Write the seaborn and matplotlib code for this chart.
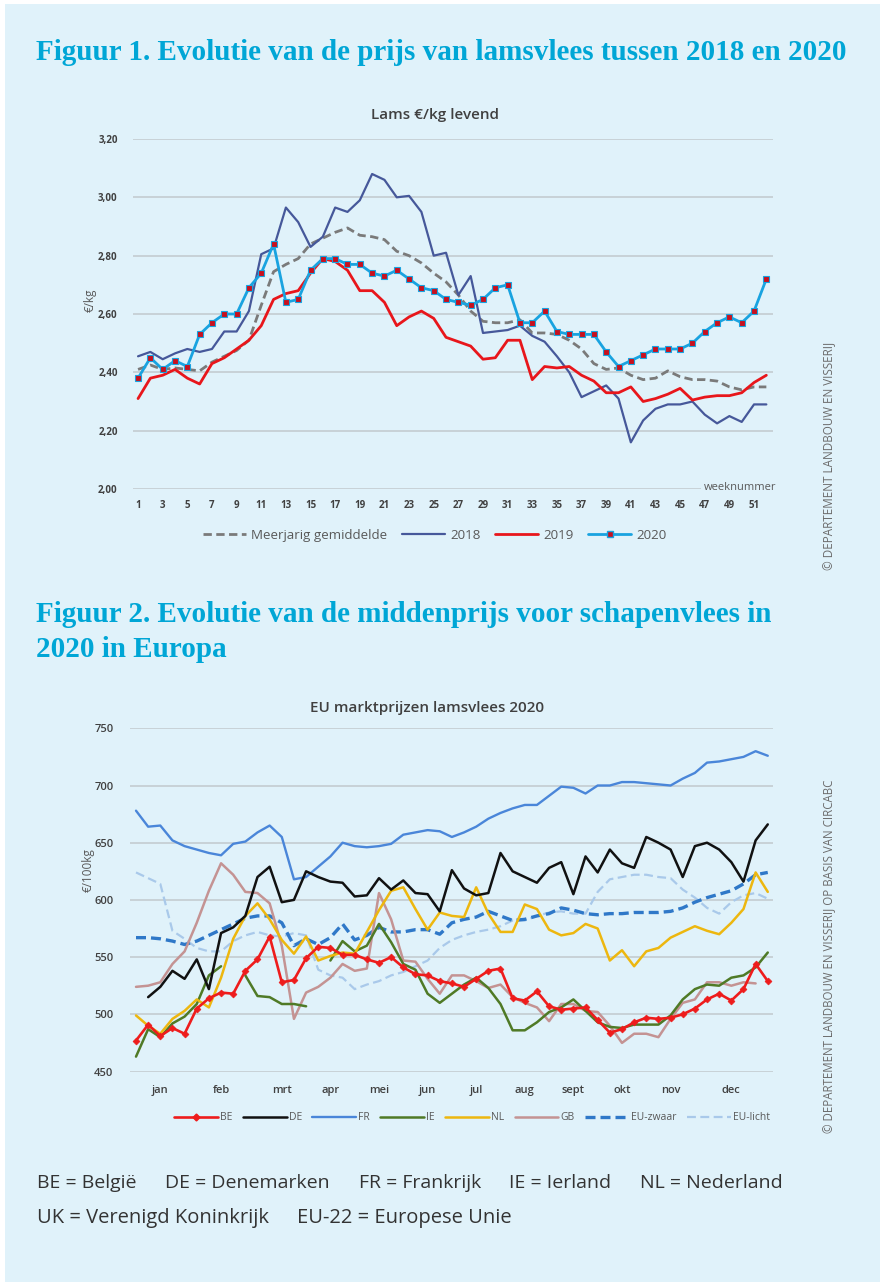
import numpy as np
import pandas as pd
import matplotlib
matplotlib.use("Agg")
import matplotlib.pyplot as plt
import seaborn as sns
from matplotlib.lines import Line2D
from matplotlib.patches import Rectangle
from matplotlib.ticker import FuncFormatter

# ---------------- Figuur 1 data ----------------
weeks_top = list(range(1, 53))
week_ticks_top = list(range(1, 52, 2))
yticks_top = [2.0, 2.2, 2.4, 2.6, 2.8, 3.0, 3.2]
gemiddelde = [2.41, 2.425, 2.41, 2.415, 2.41, 2.405, 2.435, 2.455, 2.475, 2.51,
              2.63, 2.745, 2.77, 2.79, 2.84, 2.86, 2.88, 2.895, 2.87, 2.865,
              2.855, 2.815, 2.80, 2.775, 2.74, 2.71, 2.665, 2.61, 2.575, 2.57,
              2.57, 2.58, 2.535, 2.535, 2.53, 2.51, 2.48, 2.43, 2.41, 2.415,
              2.39, 2.375, 2.38, 2.405, 2.385, 2.375, 2.375, 2.37, 2.35, 2.34,
              2.35, 2.35]
y2018 = [2.455, 2.47, 2.445, 2.465, 2.48, 2.47, 2.48, 2.54, 2.54, 2.61,
         2.805, 2.825, 2.965, 2.915, 2.83, 2.865, 2.965, 2.95, 2.99, 3.08,
         3.06, 3.00, 3.005, 2.95, 2.80, 2.81, 2.665, 2.73, 2.535, 2.54,
         2.545, 2.56, 2.525, 2.505, 2.455, 2.40, 2.315, 2.335, 2.355, 2.31,
         2.16, 2.235, 2.275, 2.29, 2.29, 2.30, 2.255, 2.225, 2.25, 2.23,
         2.29, 2.29]
y2019 = [2.31, 2.38, 2.39, 2.41, 2.38, 2.36, 2.43, 2.45, 2.48, 2.51,
         2.56, 2.65, 2.67, 2.68, 2.74, 2.79, 2.78, 2.75, 2.68, 2.68,
         2.64, 2.56, 2.59, 2.61, 2.585, 2.52, 2.505, 2.49, 2.445, 2.45,
         2.51, 2.51, 2.375, 2.42, 2.415, 2.42, 2.39, 2.37, 2.33, 2.33,
         2.35, 2.30, 2.31, 2.325, 2.345, 2.305, 2.315, 2.32, 2.32, 2.33,
         2.365, 2.39]
y2020 = [2.38, 2.45, 2.41, 2.44, 2.42, 2.53, 2.57, 2.60, 2.60, 2.69,
         2.74, 2.84, 2.64, 2.65, 2.75, 2.79, 2.79, 2.77, 2.77, 2.74,
         2.73, 2.75, 2.72, 2.69, 2.68, 2.65, 2.64, 2.63, 2.65, 2.69,
         2.70, 2.57, 2.57, 2.61, 2.54, 2.53, 2.53, 2.53, 2.47, 2.42,
         2.44, 2.46, 2.48, 2.48, 2.48, 2.50, 2.54, 2.57, 2.59, 2.57,
         2.61, 2.72]

# ---------------- Figuur 2 data ----------------
weeks_eu = list(range(1, 54))
yticks_eu = [450, 500, 550, 600, 650, 700, 750]
month_labels = ["jan", "feb", "mrt", "apr", "mei", "jun", "jul", "aug",
                "sept", "okt", "nov", "dec"]
month_pos = [3, 8, 13, 17, 21, 25, 29, 33, 37, 41, 45, 50]
nan = np.nan
BE = [477, 491, 481, 488, 483, 505, 514, 519, 518, 538,
      548, 568, 528, 530, 549, 559, 558, 552, 552, 548,
      545, 550, 541, 535, 534, 529, 527, 524, 531, 538,
      540, 514, 512, 520, 507, 504, 505, 506, 495, 484,
      487, 493, 497, 496, 497, 500, 505, 513, 518, 512,
      522, 544, 529]
DE = [nan, 515, 524, 538, 531, 548, 522, 571, 576, 586,
      620, 629, 598, 600, 625, 620, 616, 615, 603, 604,
      619, 609, 617, 606, 605, 590, 626, 610, 604, 606,
      641, 625, 620, 615, 628, 633, 605, 638, 624, 644,
      632, 628, 655, 650, 644, 620, 647, 650, 644, 633,
      616, 652, 666]
FR = [678, 664, 665, 652, 647, 644, 641, 639, 649, 651,
      659, 665, 655, 618, 620, 629, 638, 650, 647, 646,
      647, 649, 657, 659, 661, 660, 655, 659, 664, 671,
      676, 680, 683, 683, 691, 699, 698, 693, 700, 700,
      703, 703, 702, 701, 700, 706, 711, 720, 721, 723,
      725, 730, 726]
IE = [463, 487, 480, 492, 498, 509, 534, 542, nan, 534,
      516, 515, 509, 509, 507, nan, 547, 564, 555, 560,
      579, 563, 544, 539, 518, 510, 518, 526, 532, 523,
      509, 486, 486, 493, 502, 506, 513, 503, 493, 489,
      488, 491, 491, 491, 499, 513, 522, 526, 525, 532,
      534, 541, 554]
NL = [499, 490, 483, 496, 503, 513, 506, 532, 566, 586,
      597, 583, 565, 553, 568, 547, 551, 554, 553, 572,
      591, 608, 611, 592, 574, 589, 586, 585, 611, 588,
      572, 572, 596, 592, 574, 569, 571, 579, 575, 547,
      556, 542, 555, 558, 567, 572, 577, 573, 570, 580,
      592, 624, 607]
GB = [524, 525, 528, 544, 555, 580, 608, 632, 622, 607,
      606, 597, 560, 496, 519, 524, 532, 544, 538, 540,
      606, 583, 547, 546, 531, 518, 534, 534, 529, 523,
      526, 515, 510, 506, 494, 509, 509, 503, 502, 490,
      475, 483, 483, 480, 496, 510, 513, 528, 528, 525,
      528, 527, nan]
EU_zwaar = [567, 567, 566, 564, 561, 564, 569, 574, 579, 584,
            586, 586, 580, 560, 566, 561, 567, 579, 565, 569,
            576, 572, 572, 574, 574, 570, 580, 583, 585, 590,
            586, 582, 583, 586, 588, 593, 591, 588, 587, 588,
            588, 589, 589, 589, 590, 593, 598, 602, 605, 608,
            614, 622, 624]
EU_licht = [624, 619, 614, 573, 566, 558, 555, 555, 564, 569,
            572, 569, 568, 571, 569, 539, 534, 532, 522, 526,
            529, 534, 537, 542, 547, 558, 565, 569, 572, 574,
            577, 582, 582, 586, 589, 590, 588, 588, 607, 618,
            620, 622, 622, 620, 619, 609, 602, 593, 588, 598,
            604, 606, 601]

BG = "#E0F2FA"
TXT = "#404040"
CYAN_T = "#00A6D6"

sns.set_theme(style="white")
plt.rcParams['font.family'] = ['Open Sans', 'DejaVu Sans']
W, H = 880, 1282

fig = plt.figure(figsize=(W / 100, H / 100), dpi=100, facecolor="white")
fig.patches.append(Rectangle((5 / W, 0), 1 - 5 / W, 1 - 4 / H, transform=fig.transFigure,
                             facecolor=BG, edgecolor="none", zorder=-10))


def fx(px):
    return px / W


def fy(py):
    return 1 - py / H


def draw(ax, x, y, **kw):
    df = pd.DataFrame({"x": x, "y": y})
    df["seg"] = df["y"].isna().cumsum()
    df = df.dropna()
    sns.lineplot(data=df, x="x", y="y", units="seg", estimator=None, ax=ax,
                 legend=False, sort=False, **kw)


def style_axes(ax, grid_c="#C8D2D7"):
    ax.set_facecolor("none")
    for s in ax.spines.values():
        s.set_visible(False)
    ax.grid(axis="y", color=grid_c, lw=1.4)
    ax.grid(axis="x", visible=False)
    ax.set_axisbelow(True)
    ax.set_xlabel("")
    ax.set_ylabel("")


# ---------------- Figure titles ----------------
TFONT = dict(family="Liberation Serif", weight="bold", fontsize=21, color=CYAN_T,
             ha="left", va="center")
fig.text(fx(36), fy(52), "Figuur 1. Evolutie van de prijs van lamsvlees tussen 2018 en 2020", **TFONT)
fig.text(fx(36), fy(615), "Figuur 2. Evolutie van de middenprijs voor schapenvlees in", **TFONT)
fig.text(fx(36), fy(650), "2020 in Europa", **TFONT)

# ---------------- Chart 1 ----------------
ax1 = fig.add_axes([fx(133), fy(489), (773 - 133) / W, (489 - 139) / H])
C_AVG, C18, C19, C20 = "#7A7A7A", "#46589A", "#E8161B", "#19A3E0"
draw(ax1, weeks_top, gemiddelde, color=C_AVG, lw=2.0, linestyle=(0, (3, 1.6)))
draw(ax1, weeks_top, y2018, color=C18, lw=1.6)
draw(ax1, weeks_top, y2019, color=C19, lw=2.0)
draw(ax1, weeks_top, y2020, color=C20, lw=2.0, marker="s", markersize=4.4,
     markerfacecolor="#C8101E", markeredgecolor=C20, markeredgewidth=0.8)
style_axes(ax1)
ax1.set_xlim(0.59, 52.54)
ax1.set_ylim(2.0, 3.2)
ax1.set_yticks(yticks_top)
ax1.yaxis.set_major_formatter(FuncFormatter(lambda v, p: f"{v:.2f}".replace(".", ",")))
ax1.set_xticks(week_ticks_top)
ax1.set_xticklabels([str(w) for w in week_ticks_top])
ax1.tick_params(axis="both", length=0, labelsize=7, labelcolor=TXT)
ax1.tick_params(axis="x", pad=8)
ax1.tick_params(axis="y", pad=11)
for lab in ax1.get_xticklabels() + ax1.get_yticklabels():
    lab.set_fontweight("bold")
fig.text(fx(435), fy(115), "Lams €/kg levend", fontsize=11, weight="semibold",
         color=TXT, ha="center", va="center")
fig.text(fx(90), fy(300), "€/kg", rotation=90, fontsize=8.5, color="#595959",
         ha="center", va="center")
fig.text(fx(776), fy(487), "weeknummer", fontsize=8, color="#595959", ha="right",
         va="center", bbox=dict(facecolor=BG, edgecolor="none", pad=1.5))

h1 = [Line2D([], [], color=C_AVG, lw=2.0, linestyle=(0, (3, 1.6))),
      Line2D([], [], color=C18, lw=1.6),
      Line2D([], [], color=C19, lw=2.0),
      Line2D([], [], color=C20, lw=2.0, marker="s", markersize=4.4,
             markerfacecolor="#C8101E", markeredgecolor=C20)]
fig.legend(h1, ["Meerjarig gemiddelde", "2018", "2019", "2020"], loc="center",
           bbox_to_anchor=(fx(435), fy(535)), ncol=4, frameon=False, fontsize=9.6,
           handlelength=3.2, columnspacing=1.1, handletextpad=0.4, labelcolor="#595959")

# ---------------- Chart 2 ----------------
ax2 = fig.add_axes([fx(130), fy(1071.5), (773 - 130) / W, (1071.5 - 728.3) / H])
CBE, CDE, CFR, CIE, CNL, CGB, CEZ, CEL = ("#EE1C1C", "#111111", "#4A86D9", "#4F7A26",
                                          "#EDB70F", "#C49393", "#2F78C8", "#A9C9EA")
draw(ax2, weeks_eu, EU_licht, color=CEL, lw=1.6, linestyle=(0, (4, 2)))
draw(ax2, weeks_eu, EU_zwaar, color=CEZ, lw=2.4, linestyle=(0, (3, 1.5)))
draw(ax2, weeks_eu, GB, color=CGB, lw=1.8)
draw(ax2, weeks_eu, IE, color=CIE, lw=1.8)
draw(ax2, weeks_eu, NL, color=CNL, lw=1.8)
draw(ax2, weeks_eu, FR, color=CFR, lw=1.7)
draw(ax2, weeks_eu, DE, color=CDE, lw=1.8)
draw(ax2, weeks_eu, BE, color=CBE, lw=1.9, marker="D", markersize=3.5,
     markerfacecolor=CBE, markeredgecolor=CBE, markeredgewidth=0.5)
style_axes(ax2)
ax2.set_xlim(0.506, 53.43)
ax2.set_ylim(450, 750)
ax2.set_yticks(yticks_eu)
ax2.set_xticks(month_pos)
ax2.set_xticklabels(month_labels)
ax2.tick_params(axis="both", length=0, labelsize=8, labelcolor=TXT)
ax2.tick_params(axis="x", pad=10)
ax2.tick_params(axis="y", pad=12)
for lab in ax2.get_xticklabels() + ax2.get_yticklabels():
    lab.set_fontweight("semibold")
fig.text(fx(427), fy(708), "EU marktprijzen lamsvlees 2020", fontsize=11, weight="semibold",
         color=TXT, ha="center", va="center")
fig.text(fx(88), fy(870), "€/100kg", rotation=90, fontsize=8.5, color="#595959",
         ha="center", va="center")

h2 = [Line2D([], [], color=CBE, lw=1.9, marker="D", markersize=3.5),
      Line2D([], [], color=CDE, lw=1.8),
      Line2D([], [], color=CFR, lw=1.7),
      Line2D([], [], color=CIE, lw=1.8),
      Line2D([], [], color=CNL, lw=1.8),
      Line2D([], [], color=CGB, lw=1.8),
      Line2D([], [], color=CEZ, lw=2.4, linestyle=(0, (3, 1.5))),
      Line2D([], [], color=CEL, lw=1.6, linestyle=(0, (4, 2)))]
fig.legend(h2, ["BE", "DE", "FR", "IE", "NL", "GB", "EU-zwaar", "EU-licht"], loc="center",
           bbox_to_anchor=(fx(472), fy(1118)), ncol=8, frameon=False, fontsize=7.5,
           handlelength=4.2, columnspacing=1.0, handletextpad=0.2, labelcolor="#595959")

# ---------------- footnotes ----------------
foot1 = ["BE = België", "DE = Denemarken", "FR = Frankrijk", "IE = Ierland", "NL = Nederland"]
foot2 = ["UK = Verenigd Koninkrijk", "EU-22 = Europese Unie"]
renderer = fig.canvas.get_renderer()


def text_row(items, y, x0, x1, size):
    objs = [fig.text(0, fy(y), t, fontsize=size, color="#333333", ha="left", va="center")
            for t in items]
    widths = [o.get_window_extent(renderer).width for o in objs]
    gap = (x1 - x0 - sum(widths)) / max(len(items) - 1, 1)
    x = x0
    for o, w in zip(objs, widths):
        o.set_x(fx(x))
        x += w + gap


text_row(foot1, 1183, 37, 783, 14)
text_row(foot2, 1218, 37, 512, 14.5)

fig.text(fx(830), fy(456), "© DEPARTEMENT LANDBOUW EN VISSERIJ", rotation=90,
         fontsize=8.4, color="#6B6B6B", ha="center", va="center")
fig.text(fx(830), fy(956), "© DEPARTEMENT LANDBOUW EN VISSERIJ OP BASIS VAN CIRCABC",
         rotation=90, fontsize=8.3, color="#6B6B6B", ha="center", va="center")

fig.savefig("out.png", dpi=100, facecolor="white")
